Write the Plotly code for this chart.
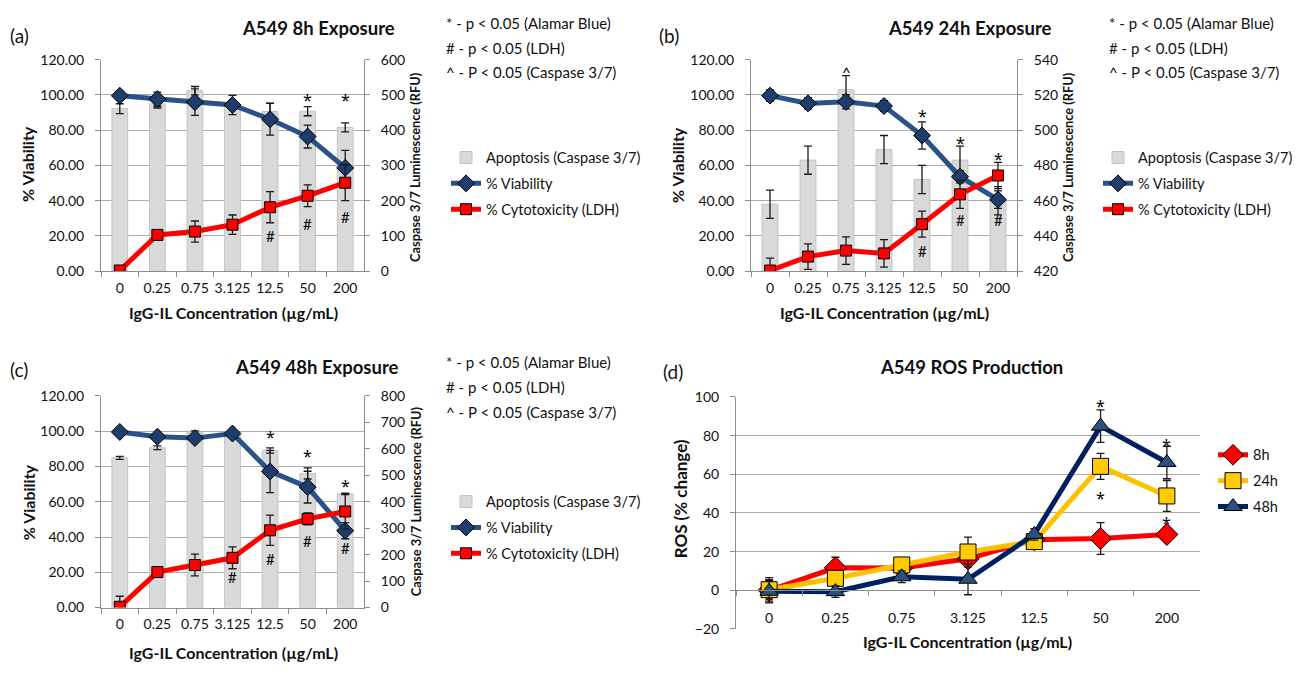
import plotly.graph_objects as go

W, H = 1305, 674
FONT = "Lato"

categories = ["0", "0.25", "0.75", "3.125", "12.5", "50", "200"]

# ---- Panel (a): A549 8h exposure ----
a_viab = [99.6, 97.6, 95.9, 94.3, 86.2, 76.4, 58.6]
a_viab_err = [2.4, 4.0, 7.5, 5.5, 9.0, 6.5, 10.0]
a_cyto = [0.4, 20.6, 22.5, 26.4, 36.3, 42.8, 50.2]
a_cyto_err = [1.0, 1.5, 6.0, 5.5, 8.8, 6.2, 10.2]
a_casp = [461, 475, 512, 472, 453, 454, 408]
a_casp_err = [14, 12, 12, 12, 24, 13, 13]

# ---- Panel (b): A549 24h exposure ----
b_viab = [99.6, 95.2, 96.1, 93.7, 77.0, 53.6, 40.6]
b_viab_err = [3.3, 3.3, 4.0, 3.0, 7.7, 3.5, 5.0]
b_cyto = [0.4, 8.3, 11.7, 10.1, 26.7, 43.6, 54.3]
b_cyto_err = [7.0, 7.2, 7.8, 7.8, 7.4, 8.0, 7.5]
b_casp = [458, 483, 523, 489, 472, 483, 460]
b_casp_err = [8, 8, 8, 8, 8, 8, 8]

# ---- Panel (c): A549 48h exposure ----
c_viab = [99.6, 96.9, 96.1, 98.7, 77.2, 68.3, 43.6]
c_viab_err = [2.0, 1.0, 1.5, 1.0, 12.0, 9.0, 4.6]
c_cyto = [0.4, 20.1, 24.1, 28.2, 43.8, 50.3, 54.5]
c_cyto_err = [6.0, 1.0, 6.2, 6.2, 8.6, 3.4, 10.0]
c_casp = [566, 604, 662, 655, 594, 507, 430]
c_casp_err = [6, 7, 6, 6, 10, 21, 3]

# ---- Panel (d): A549 ROS production ----
ros_8h = [0.0, 11.6, 11.5, 16.3, 26.2, 26.8, 28.9]
ros_8h_err = [5.0, 5.5, 3.0, 4.0, 3.0, 8.2, 2.0]
ros_24h = [0.3, 6.2, 13.1, 19.8, 25.2, 64.1, 48.8]
ros_24h_err = [6.3, 4.0, 3.0, 7.7, 3.0, 6.7, 8.0]
ros_48h = [-0.5, -0.7, 7.0, 5.7, 28.9, 84.9, 66.1]
ros_48h_err = [6.0, 3.0, 3.0, 8.0, 3.0, 8.4, 8.4]

# significance labels: (category, value-axis level)
a_star = (["50", "200"], [97, 97])
a_hash = (["12.5", "50", "200"], [20, 26.5, 31])
b_caret = (["0.75"], [113])
b_star = (["12.5", "50", "200"], [88, 73, 63.7])
b_hash = (["12.5", "50", "200"], [11.6, 29.3, 29.3])
c_star = (["12.5", "50", "200"], [96.9, 85.8, 68.7])
c_hash = (["3.125", "12.5", "50", "200"], [17.1, 27.6, 37.6, 33.7])
d_star = (["50", "50", "200", "200"], [95.3, 47.5, 75.1, 34.9])

notes = ["* - p < 0.05 (Alamar Blue)", "# - p < 0.05 (LDH)", "^ - P < 0.05 (Caspase 3/7)"]


def X(p):
    return p / W


def Y(p):
    return 1 - p / H


GRID = "#ABABAB"
AXIS = "#8C8C8C"
TXT = "#111111"
VIAB_LINE = "#2A5189"
VIAB_MARK = "#1F3D6B"

fig = go.Figure()


def err(arr):
    return dict(type="data", array=arr, visible=True, color="#1a1a1a", thickness=1.3, width=4)


def add_cyto_panel(xa, ya_c, ya_v, casp, casp_e, viab, viab_e, cyto, cyto_e, leg):
    fig.add_trace(go.Bar(
        x=categories, y=casp, error_y=err(casp_e), width=0.42,
        marker=dict(color="#D9D9D9", line=dict(color="#C3C3C3", width=1)),
        name="Apoptosis (Caspase 3/7)", xaxis=xa, yaxis=ya_c, legend=leg, legendgroup="a" + leg))
    fig.add_trace(go.Scatter(
        x=categories, y=viab, error_y=err(viab_e), mode="lines+markers",
        line=dict(color=VIAB_LINE, width=5),
        marker=dict(symbol="diamond", size=13, color=VIAB_MARK, line=dict(color="#000", width=1)),
        name="% Viability", xaxis=xa, yaxis=ya_v, legend=leg, legendgroup="b" + leg))
    fig.add_trace(go.Scatter(
        x=categories, y=cyto, error_y=err(cyto_e), mode="lines+markers",
        line=dict(color="#FF0000", width=5),
        marker=dict(symbol="square", size=11, color="#FF0000", line=dict(color="#000", width=1)),
        name="% Cytotoxicity (LDH)", xaxis=xa, yaxis=ya_v, legend=leg, legendgroup="c" + leg))


add_cyto_panel("x", "y", "y2", a_casp, a_casp_err, a_viab, a_viab_err, a_cyto, a_cyto_err, "legend")
add_cyto_panel("x2", "y3", "y4", b_casp, b_casp_err, b_viab, b_viab_err, b_cyto, b_cyto_err, "legend2")
add_cyto_panel("x3", "y5", "y6", c_casp, c_casp_err, c_viab, c_viab_err, c_cyto, c_cyto_err, "legend3")

ros_series = [
    ("8h", ros_8h, ros_8h_err, "#FF0000", "diamond", 17, "#FF0000"),
    ("24h", ros_24h, ros_24h_err, "#FFC000", "square", 16, "#FFCC00"),
    ("48h", ros_48h, ros_48h_err, "#002060", "triangle-up", 16, "#2A5080"),
]
for nm, vals, e, lc, sym, sz, mc in ros_series:
    fig.add_trace(go.Scatter(
        x=categories, y=vals, error_y=err(e), mode="lines+markers",
        line=dict(color=lc, width=5),
        marker=dict(symbol=sym, size=sz, color=mc, line=dict(color="#000", width=1)),
        name=nm, xaxis="x4", yaxis="y7", legend="legend4", legendgroup=nm))

tickfont = dict(family=FONT, size=14, color=TXT)


def xaxis_def(x0, x1, anchor, **kw):
    d = dict(domain=[X(x0), X(x1)], anchor=anchor, type="category", range=[-0.5, 6.5],
             categoryorder="array", categoryarray=categories,
             showgrid=False, showline=True, linecolor=AXIS, linewidth=1,
             ticks="outside", ticklen=5, tickcolor=AXIS, tickson="boundaries",
             tickangle=0, tickfont=tickfont, ticklabelstandoff=4, zeroline=False)
    d.update(kw)
    return d


def casp_axis(y0, y1, anchor, rng, dtick):
    return dict(domain=[Y(y1), Y(y0)], anchor=anchor, side="right", range=rng, dtick=dtick,
                showgrid=False, showline=True, linecolor=AXIS, ticks="outside", ticklen=5,
                tickcolor=AXIS, tickfont=tickfont, ticklabelstandoff=8, zeroline=False)


def viab_axis(anchor, overlay):
    return dict(anchor=anchor, overlaying=overlay, side="left", range=[0, 120], dtick=20,
                tickformat=".2f", showgrid=True, gridcolor=GRID, gridwidth=1,
                showline=True, linecolor=AXIS, ticks="outside", ticklen=5, tickcolor=AXIS,
                tickfont=tickfont, ticklabelstandoff=8, zeroline=False)


# panel geometry (pixels)
A = (101, 364, 52, 269)
B = (751, 1017, 52, 269)
C = (101, 364, 397, 614)
D = (736, 1200, 398, 636)

d_zero_pos = Y(D[3]) + (Y(D[2]) - Y(D[3])) * (20 / 120)

layout = dict(
    width=W, height=H, margin=dict(l=0, r=0, t=0, b=0),
    paper_bgcolor="white", plot_bgcolor="rgba(0,0,0,0)",
    font=dict(family=FONT, size=14, color=TXT),
    xaxis=xaxis_def(A[0], A[1], "y"),
    yaxis=casp_axis(A[2], A[3], "x", [0, 600], 100),
    yaxis2=viab_axis("x", "y"),
    xaxis2=xaxis_def(B[0], B[1], "y3"),
    yaxis3=casp_axis(B[2], B[3], "x2", [420, 540], 20),
    yaxis4=viab_axis("x2", "y3"),
    xaxis3=xaxis_def(C[0], C[1], "y5"),
    yaxis5=casp_axis(C[2], C[3], "x3", [0, 800], 100),
    yaxis6=viab_axis("x3", "y5"),
    xaxis4=xaxis_def(D[0], D[1], "free", position=d_zero_pos, ticklabelstandoff=15),
    yaxis7=dict(domain=[Y(D[3]), Y(D[2])], anchor="x4", range=[-20, 100], dtick=20,
                showgrid=True, gridcolor=GRID, showline=True, linecolor=AXIS,
                ticks="outside", ticklen=5, tickcolor=AXIS, tickfont=tickfont,
                ticklabelstandoff=8, zeroline=False),
    showlegend=True,
)

leg_common = dict(xanchor="left", yanchor="top", bgcolor="rgba(0,0,0,0)",
                  font=dict(family=FONT, size=14.5, color=TXT), itemwidth=30,
                  tracegroupgap=4, traceorder="grouped")
layout["legend"] = dict(x=X(446), y=Y(136), **leg_common)
layout["legend2"] = dict(x=X(1098), y=Y(136), **leg_common)
layout["legend3"] = dict(x=X(446), y=Y(489), **leg_common)
layout["legend4"] = dict(x=X(1213), y=Y(441), **leg_common)

fig.update_layout(**layout)

annotations = []


def txt(text, x, y, size=14, xanchor="left", angle=0, bold=False, yanchor="middle"):
    annotations.append(dict(
        text=("<b>%s</b>" % text) if bold else text, x=X(x), y=Y(y), xref="paper", yref="paper",
        xanchor=xanchor, yanchor=yanchor, textangle=angle, showarrow=False,
        font=dict(family=FONT, size=size, color=TXT)))


# panel letters and titles
txt("(a)", 8, 27, size=19)
txt("(b)", 657, 27, size=19)
txt("(c)", 8, 370, size=19)
txt("(d)", 661, 372, size=19)
txt("A549 8h Exposure", 397, 20, size=18.5, xanchor="right", bold=True)
txt("A549 24h Exposure", 1054, 20, size=18.5, xanchor="right", bold=True)
txt("A549 48h Exposure", 401, 367, size=18.5, xanchor="right", bold=True)
txt("A549 ROS Production", 971, 367, size=18.5, xanchor="center", bold=True)

# p-value notes
for (nx, ny0) in [(444, 14), (1107, 14), (444, 362)]:
    for i, n in enumerate(notes):
        txt(n, nx, ny0 + i * 25.5, size=15)

# axis titles
for (lx, ly) in [(28, 159), (678, 160), (28, 506)]:
    txt("% Viability", lx, ly, size=16, xanchor="center", angle=-90, bold=True)
for (rx, ry) in [(415, 162), (1068, 162), (416, 505)]:
    txt("Caspase 3/7 Luminescence (RFU)", rx, ry, size=12.8, xanchor="center", angle=-90, bold=True)
txt("IgG-IL Concentration (µg/mL)", 233, 311, size=16, xanchor="center", bold=True)
txt("IgG-IL Concentration (µg/mL)", 884, 311, size=16, xanchor="center", bold=True)
txt("IgG-IL Concentration (µg/mL)", 233, 660, size=16, xanchor="center", bold=True)
txt("IgG-IL Concentration (µg/mL)", 968, 649, size=16, xanchor="center", bold=True)
txt("ROS (% change)", 680, 502, size=17, xanchor="center", angle=-90, bold=True)


def sig(marks, symbol, xref, yref, size, family=FONT):
    for cat, lvl in zip(*marks):
        annotations.append(dict(text=symbol, x=categories.index(cat), y=lvl, xref=xref, yref=yref,
                                showarrow=False, xanchor="center", yanchor="middle",
                                font=dict(family=family, size=size, color="#000000")))


STAR_FONT = "Noto Sans"
sig(a_star, "*", "x", "y2", 16, STAR_FONT)
sig(a_hash, "#", "x", "y2", 15)
sig(b_caret, "^", "x2", "y4", 15)
sig(b_star, "*", "x2", "y4", 16, STAR_FONT)
sig(b_hash, "#", "x2", "y4", 15)
sig(c_star, "*", "x3", "y6", 16, STAR_FONT)
sig(c_hash, "#", "x3", "y6", 15)
sig(d_star, "*", "x4", "y7", 16, STAR_FONT)

fig.update_layout(annotations=annotations)

fig.write_html("out.html", config={"displayModeBar": False},
               post_script="document.body.style.margin='0';")
